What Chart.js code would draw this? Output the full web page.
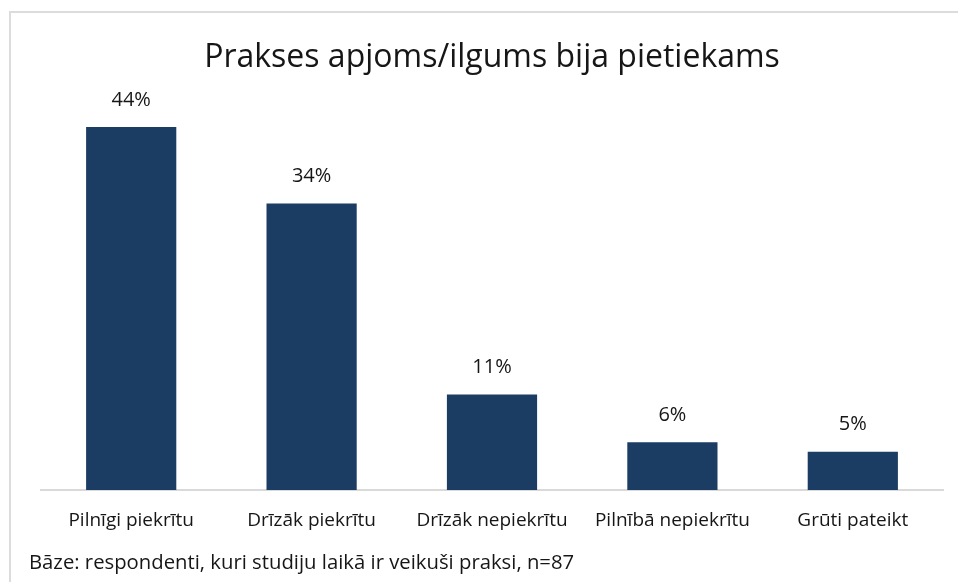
<!DOCTYPE html>
<html>
<head>
<meta charset="utf-8">
<script src="https://cdn.jsdelivr.net/npm/chart.js@4"></script>
<style>
  html,body{margin:0;padding:0;background:#fff;}
  #wrap{position:relative;width:958px;height:582px;overflow:hidden;}
  #frame{position:absolute;left:9px;top:11px;width:980px;height:600px;border:2px solid #dcdcdc;box-sizing:border-box;}
  canvas{position:absolute;left:0;top:0;}
</style>
</head>
<body>
<div id="wrap">
  <div id="frame"></div>
  <canvas id="ch" width="958" height="582"></canvas>
</div>
<script>
// data
const categories=['Pilnīgi piekrītu','Drīzāk piekrītu','Drīzāk nepiekrītu','Pilnībā nepiekrītu','Grūti pateikt'];
const shares=[43.68,34.48,11.49,5.75,4.60]; // % of respondents
const chartTitle='Prakses apjoms/ilgums bija pietiekams';
const footNote='Bāze: respondenti, kuri studiju laikā ir veikuši praksi, n=87';

const FONT='"Open Sans", "Noto Sans", sans-serif';
const TXT='#161616';

// value labels above bars + footer note
const barLabels={
  id:'barLabels',
  afterDatasetsDraw(chart){
    const c=chart.ctx;
    const meta=chart.getDatasetMeta(0);
    c.save();
    c.font='20px '+FONT;
    c.fillStyle=TXT;
    c.textAlign='center';c.textBaseline='middle';
    meta.data.forEach((bar,i)=>{
      c.fillText(Math.round(shares[i])+'%',bar.x,bar.y-27);
    });
    c.textAlign='left';
    c.font='20.3px '+FONT;
    c.fillText(footNote,29,563);
    c.restore();
  }
};

new Chart(document.getElementById('ch'),{
  type:'bar',
  data:{labels:categories,datasets:[{data:shares,backgroundColor:'#1b3c63',borderWidth:0,categoryPercentage:1,barPercentage:0.5}]},
  options:{
    responsive:false,animation:false,
    layout:{padding:{left:41,right:15,top:0,bottom:48}},
    plugins:{
      legend:{display:false},tooltip:{enabled:false},
      title:{display:true,text:chartTitle,color:TXT,font:{family:FONT,size:32,weight:'normal',lineHeight:1},padding:{top:41.6,bottom:1}}
    },
    scales:{
      y:{display:false,min:0,max:50},
      x:{
        grid:{display:false,drawTicks:false},
        border:{display:true,color:'#d9d9d9',width:2},
        ticks:{color:TXT,font:{family:FONT,size:19},padding:19,maxRotation:0,autoSkip:false},
        afterFit(s){s.height=44;}
      }
    }
  },
  plugins:[barLabels]
});
</script>
</body>
</html>
